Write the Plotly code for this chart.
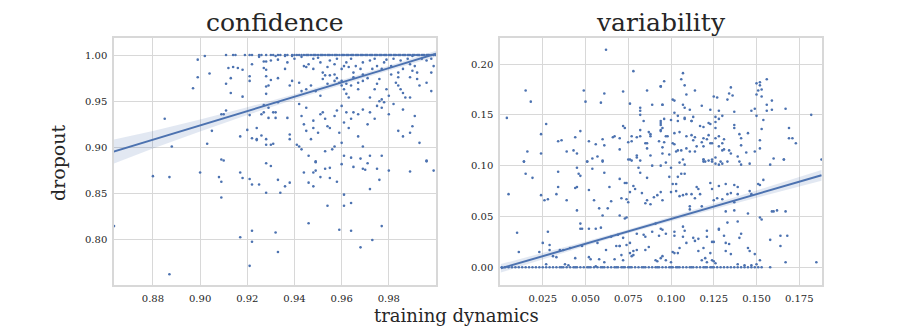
import plotly.graph_objects as go

# ---- confidence panel (x = confidence, y = dropout) ----
conf_x = [
    0.885, 0.888, 0.897, 0.899, 0.899, 0.902, 0.904, 0.905, 0.903, 0.909,
    0.909, 0.910, 0.911, 0.912, 0.914, 0.911, 0.913, 0.913, 0.916, 0.918,
    0.918, 0.921, 0.921, 0.922, 0.925, 0.927, 0.928, 0.930, 0.927, 0.928,
    0.928, 0.928, 0.929, 0.930, 0.928, 0.927, 0.926, 0.927, 0.929, 0.929,
    0.931, 0.932, 0.921, 0.924, 0.920, 0.926, 0.922, 0.924, 0.924, 0.917,
    0.928, 0.928, 0.930, 0.931,
    0.880, 0.887, 0.900, 0.910, 0.908, 0.909, 0.917, 0.918, 0.921, 0.922,
    0.925, 0.928, 0.930, 0.928, 0.909, 0.8635, 0.922, 0.932, 0.917, 0.922,
    0.921, 0.887,
    0.949, 0.944, 0.948, 0.949, 0.953, 0.955, 0.951, 0.955, 0.958, 0.946,
    0.948, 0.933, 0.938, 0.936, 0.934, 0.960, 0.965, 0.969, 0.970, 0.971,
    0.975, 0.976, 0.972, 0.980, 0.989, 0.999, 0.996, 0.961, 0.964, 0.961,
    0.954, 0.946, 0.959, 0.964, 0.977, 0.973, 0.968, 0.933,
    0.932, 0.933, 0.936, 0.937, 0.939, 0.940, 0.943, 0.944, 0.945, 0.946,
    0.948, 0.948, 0.950, 0.951, 0.952, 0.953, 0.954, 0.955, 0.957, 0.958,
    0.960, 0.961, 0.962, 0.963, 0.964, 0.965, 0.966, 0.968, 0.969, 0.972,
    0.973, 0.974, 0.975, 0.977, 0.978, 0.979, 0.981, 0.982, 0.984, 0.985,
    0.986, 0.988, 0.989, 0.990, 0.991, 0.992, 0.994, 0.996, 0.998, 0.999,
    0.933, 0.936, 0.938, 0.939, 0.942, 0.943, 0.945, 0.947, 0.949, 0.951,
    0.952, 0.954, 0.955, 0.957, 0.957, 0.958, 0.959, 0.960, 0.960, 0.961,
    0.962, 0.962, 0.963, 0.964, 0.965, 0.967, 0.967, 0.969, 0.969, 0.971,
    0.972, 0.974, 0.975, 0.976, 0.977, 0.979, 0.980, 0.981, 0.983, 0.984,
    0.984, 0.985, 0.986, 0.987, 0.989, 0.990, 0.992, 0.993, 0.996, 0.998,
    0.998,
    0.932, 0.933, 0.937, 0.938, 0.938, 0.941, 0.942, 0.943, 0.944, 0.945,
    0.945, 0.947, 0.948, 0.948, 0.950, 0.951, 0.952, 0.953, 0.954, 0.955,
    0.957, 0.958, 0.959, 0.960, 0.960, 0.961, 0.962, 0.963, 0.964, 0.965,
    0.967, 0.967, 0.969, 0.971, 0.972, 0.974, 0.975, 0.976, 0.977, 0.978,
    0.980, 0.982, 0.984, 0.986, 0.986, 0.989, 0.989, 0.990, 0.991, 0.993,
    0.942, 0.956, 0.969,
    0.943, 0.946, 0.949, 0.953, 0.957, 0.961, 0.964, 0.968, 0.972, 0.977,
    0.996,
]
conf_y = [
    0.931, 0.901, 0.964, 0.976, 0.995, 0.999, 0.980, 0.918, 0.904, 0.887,
    0.936, 0.936, 0.940, 0.986, 0.987, 0.969, 0.975, 0.959, 0.986, 0.984,
    0.955, 0.977, 0.972, 0.990, 0.998, 0.993, 0.993, 0.994, 0.986, 0.984,
    0.977, 0.966, 0.967, 0.973, 0.958, 0.946, 0.936, 0.938, 0.943, 0.932,
    0.938, 0.932, 0.935, 0.921, 0.919, 0.913, 0.910, 0.909, 0.908, 0.912,
    0.909, 0.903, 0.903, 0.904,
    0.869, 0.868, 0.873, 0.886, 0.868, 0.863, 0.873, 0.867, 0.866, 0.860,
    0.860, 0.883, 0.880, 0.851, 0.846, 0.815, 0.810, 0.808, 0.803, 0.798,
    0.772, 0.763,
    0.884, 0.873, 0.873, 0.875, 0.877, 0.878, 0.868, 0.867, 0.863, 0.862,
    0.858, 0.865, 0.862, 0.858, 0.851, 0.882, 0.879, 0.877, 0.876, 0.883,
    0.877, 0.865, 0.855, 0.875, 0.874, 0.875, 0.886, 0.849, 0.840, 0.837,
    0.837, 0.818, 0.811, 0.810, 0.815, 0.800, 0.792, 0.787,
    0.999, 0.995, 0.999, 0.992, 0.999, 0.996, 0.998, 0.988, 0.987, 0.990,
    0.985, 0.996, 0.997, 0.992, 0.981, 0.978, 0.987, 0.994, 0.990, 0.996,
    0.985, 0.988, 0.992, 0.987, 0.996, 0.981, 0.988, 0.985, 0.992, 0.994,
    0.985, 0.996, 0.988, 0.985, 0.992, 0.995, 0.988, 0.996, 0.981, 0.994,
    0.985, 0.996, 0.990, 0.999, 0.988, 0.981, 0.996, 0.994, 0.996, 0.988,
    0.975, 0.985, 0.967, 0.972, 0.970, 0.961, 0.963, 0.967, 0.961, 0.956,
    0.974, 0.969, 0.978, 0.979, 0.972, 0.975, 0.970, 0.967, 0.972, 0.963,
    0.969, 0.958, 0.954, 0.967, 0.976, 0.970, 0.963, 0.979, 0.972, 0.975,
    0.954, 0.963, 0.969, 0.974, 0.952, 0.963, 0.956, 0.979, 0.970, 0.976,
    0.967, 0.963, 0.959, 0.954, 0.976, 0.983, 0.974, 0.967, 0.970, 0.981,
    0.961,
    0.938, 0.949, 0.932, 0.914, 0.909, 0.903, 0.947, 0.934, 0.925, 0.943,
    0.918, 0.909, 0.929, 0.921, 0.916, 0.936, 0.938, 0.931, 0.923, 0.921,
    0.934, 0.940, 0.916, 0.945, 0.905, 0.927, 0.938, 0.921, 0.931, 0.938,
    0.912, 0.936, 0.941, 0.925, 0.938, 0.931, 0.945, 0.950, 0.943, 0.949,
    0.936, 0.947, 0.918, 0.941, 0.912, 0.954, 0.916, 0.923, 0.934, 0.905,
    0.901, 0.898, 0.901,
    0.898, 0.891, 0.885, 0.896, 0.901, 0.891, 0.889, 0.888, 0.891, 0.891,
    0.885,
]
# points sitting exactly at dropout = 1.00
conf_top_x = [
    0.911, 0.914, 0.915, 0.919, 0.921, 0.922, 0.925, 0.926, 0.928, 0.930,
    0.931, 0.933, 0.934, 0.936, 0.937, 0.939, 0.940, 0.941, 0.942, 0.943,
    0.944, 0.945, 0.9455, 0.946, 0.947, 0.948, 0.9485, 0.949, 0.950, 0.951,
    0.9515, 0.952, 0.953, 0.954, 0.9545, 0.955, 0.956, 0.957, 0.9575, 0.958,
    0.959, 0.960, 0.9605, 0.961, 0.962, 0.9625, 0.963, 0.964, 0.9645, 0.965,
    0.966, 0.9665, 0.967, 0.968, 0.9685, 0.969, 0.970, 0.9705, 0.971, 0.972,
    0.9725, 0.973, 0.974, 0.9745, 0.975, 0.976, 0.9765, 0.977, 0.978, 0.9785,
    0.979, 0.980, 0.9805, 0.981, 0.982, 0.9825, 0.983, 0.984, 0.9845, 0.985,
    0.986, 0.9865, 0.987, 0.988, 0.9885, 0.989, 0.990, 0.9905, 0.991, 0.992,
    0.9925, 0.993, 0.994, 0.9945, 0.995, 0.996, 0.9965, 0.997, 0.998, 0.999,
    1.0,
]
conf_top_y = [1.0] * len(conf_top_x)

# regression line + 95% band
conf_fit_x = [0.8633, 0.88, 0.90, 0.92, 0.94, 0.96, 0.98, 1.0]
conf_fit_y = [0.8955, 0.9083, 0.9238, 0.9393, 0.9548, 0.9703, 0.9858, 1.0013]
conf_fit_hw = [0.013, 0.0095, 0.0065, 0.0042, 0.0029, 0.0023, 0.0025, 0.0032]

# ---- variability panel (x = variability, y = dropout) ----
var_x = [
    0.062, 0.078, 0.015, 0.018, 0.049, 0.050, 0.061, 0.059, 0.072, 0.076,
    0.082, 0.082, 0.082, 0.086, 0.089, 0.094, 0.095, 0.004, 0.027, 0.024,
    0.016, 0.024, 0.014, 0.034, 0.036, 0.039, 0.043, 0.045, 0.044, 0.047,
    0.052, 0.056, 0.060, 0.061, 0.054, 0.057, 0.051, 0.060, 0.066, 0.067,
    0.070, 0.070, 0.072, 0.073, 0.075, 0.077, 0.077, 0.076, 0.080, 0.080,
    0.080, 0.082, 0.082, 0.082, 0.084, 0.085, 0.086, 0.087, 0.088, 0.086,
    0.088, 0.088, 0.094, 0.094, 0.094, 0.093, 0.095, 0.095,
    0.107, 0.106, 0.096, 0.094, 0.108, 0.114, 0.109, 0.101, 0.102, 0.095,
    0.107, 0.108, 0.111, 0.118, 0.123, 0.125, 0.127, 0.128, 0.135, 0.134,
    0.136, 0.133, 0.137, 0.150, 0.152, 0.152, 0.153, 0.156, 0.151, 0.150,
    0.153, 0.159, 0.156, 0.159, 0.156, 0.149, 0.147, 0.167, 0.182, 0.096,
    0.100, 0.102, 0.104, 0.108, 0.108, 0.113, 0.112, 0.112, 0.104, 0.117,
    0.119, 0.122, 0.123, 0.126, 0.126, 0.130, 0.128, 0.126, 0.137, 0.137,
    0.140, 0.145, 0.141, 0.150, 0.154, 0.153, 0.152, 0.169, 0.169, 0.171,
    0.173, 0.152, 0.141, 0.094, 0.094, 0.097, 0.098, 0.102, 0.105, 0.109,
    0.112, 0.114, 0.113, 0.115, 0.118, 0.119, 0.119, 0.121, 0.122, 0.123,
    0.124, 0.126, 0.128, 0.128, 0.130, 0.131, 0.130, 0.131, 0.134, 0.135,
    0.139, 0.101, 0.102, 0.103, 0.104, 0.095, 0.096, 0.099, 0.106, 0.109,
    0.111, 0.107, 0.114, 0.119, 0.119, 0.122, 0.124, 0.126, 0.129, 0.144,
    0.149, 0.160, 0.166, 0.188,
    0.014, 0.015, 0.019, 0.005, 0.024, 0.026, 0.028, 0.034, 0.034, 0.033,
    0.039, 0.045, 0.046, 0.047, 0.044, 0.045, 0.045, 0.047, 0.048, 0.051,
    0.054, 0.061, 0.060, 0.052, 0.055, 0.058, 0.060, 0.063, 0.064, 0.065,
    0.070, 0.071, 0.070, 0.073, 0.074, 0.073, 0.074, 0.074, 0.075, 0.076,
    0.075, 0.077, 0.081, 0.082, 0.078, 0.079, 0.083, 0.086, 0.086, 0.085,
    0.088, 0.089, 0.090, 0.092, 0.094, 0.095, 0.048, 0.047, 0.052, 0.056,
    0.059, 0.057, 0.062, 0.065, 0.069, 0.068, 0.070, 0.070, 0.067, 0.072,
    0.074, 0.071, 0.072, 0.076, 0.078, 0.080, 0.076, 0.077, 0.078, 0.080,
    0.084, 0.085, 0.085, 0.087, 0.089, 0.091, 0.093, 0.091, 0.092, 0.094,
    0.094, 0.010, 0.011, 0.023, 0.025, 0.028, 0.029, 0.029, 0.031, 0.033,
    0.035, 0.037, 0.041, 0.044, 0.052, 0.053, 0.058, 0.061, 0.027, 0.038,
    0.040, 0.056,
    0.094, 0.097, 0.100, 0.105, 0.108, 0.119, 0.120, 0.124, 0.126, 0.128,
    0.130, 0.133, 0.140, 0.141, 0.146, 0.158, 0.166, 0.099, 0.104, 0.106,
    0.108, 0.101, 0.103, 0.100, 0.103, 0.105, 0.107, 0.109, 0.112, 0.115,
    0.116, 0.117, 0.114, 0.111, 0.111, 0.118, 0.123, 0.124, 0.128, 0.132,
    0.137, 0.139, 0.135, 0.139, 0.125, 0.127, 0.130, 0.133, 0.146, 0.147,
    0.151, 0.152, 0.154, 0.137, 0.132, 0.137, 0.145, 0.159, 0.160, 0.162,
    0.167, 0.152, 0.153, 0.095, 0.097, 0.102, 0.102, 0.107, 0.108, 0.107,
    0.109, 0.113, 0.114, 0.116, 0.121, 0.121, 0.119, 0.124, 0.125, 0.128,
    0.128, 0.131, 0.133, 0.132, 0.134, 0.132, 0.135, 0.140, 0.141, 0.139,
    0.145, 0.146, 0.149, 0.152, 0.158, 0.164, 0.168, 0.164, 0.167, 0.185,
    0.095, 0.097, 0.101, 0.102, 0.104, 0.105, 0.116, 0.123, 0.118, 0.120,
    0.121, 0.124, 0.125, 0.126, 0.139, 0.143, 0.147, 0.150, 0.100,
]
var_y = [
    0.214, 0.193, 0.174, 0.163, 0.174, 0.163, 0.171, 0.162, 0.173, 0.161,
    0.157, 0.154, 0.150, 0.174, 0.160, 0.178, 0.160, 0.147, 0.141, 0.131,
    0.114, 0.112, 0.104, 0.124, 0.125, 0.114, 0.115, 0.112, 0.128, 0.134,
    0.124, 0.121, 0.126, 0.120, 0.107, 0.109, 0.104, 0.105, 0.128, 0.129,
    0.127, 0.116, 0.139, 0.137, 0.123, 0.129, 0.124, 0.106, 0.110, 0.108,
    0.128, 0.129, 0.135, 0.105, 0.144, 0.122, 0.122, 0.133, 0.131, 0.117,
    0.110, 0.129, 0.144, 0.142, 0.134, 0.124, 0.137, 0.112,
    0.191, 0.185, 0.183, 0.178, 0.179, 0.174, 0.170, 0.165, 0.164, 0.160,
    0.160, 0.157, 0.155, 0.159, 0.155, 0.168, 0.167, 0.154, 0.177, 0.171,
    0.169, 0.165, 0.153, 0.181, 0.182, 0.179, 0.175, 0.185, 0.174, 0.170,
    0.168, 0.164, 0.160, 0.155, 0.154, 0.156, 0.154, 0.156, 0.150, 0.146,
    0.145, 0.152, 0.149, 0.147, 0.146, 0.148, 0.144, 0.144, 0.144, 0.139,
    0.138, 0.142, 0.141, 0.148, 0.143, 0.149, 0.146, 0.137, 0.140, 0.137,
    0.131, 0.132, 0.127, 0.149, 0.145, 0.136, 0.125, 0.137, 0.127, 0.127,
    0.122, 0.117, 0.120, 0.140, 0.135, 0.129, 0.129, 0.132, 0.133, 0.129,
    0.130, 0.128, 0.125, 0.119, 0.123, 0.127, 0.119, 0.126, 0.130, 0.122,
    0.122, 0.127, 0.129, 0.119, 0.122, 0.126, 0.115, 0.116, 0.115, 0.112,
    0.109, 0.122, 0.121, 0.114, 0.115, 0.118, 0.123, 0.111, 0.115, 0.117,
    0.114, 0.106, 0.114, 0.106, 0.104, 0.105, 0.106, 0.108, 0.104, 0.113,
    0.114, 0.107, 0.106, 0.106,
    0.104, 0.092, 0.088, 0.072, 0.071, 0.066, 0.067, 0.094, 0.079, 0.072,
    0.066, 0.098, 0.092, 0.090, 0.078, 0.079, 0.056, 0.043, 0.038, 0.104,
    0.097, 0.093, 0.104, 0.076, 0.066, 0.058, 0.051, 0.058, 0.079, 0.065,
    0.087, 0.068, 0.051, 0.048, 0.049, 0.083, 0.083, 0.067, 0.064, 0.074,
    0.106, 0.105, 0.098, 0.093, 0.080, 0.077, 0.073, 0.088, 0.066, 0.063,
    0.062, 0.100, 0.069, 0.071, 0.074, 0.066, 0.021, 0.038, 0.038, 0.038,
    0.039, 0.024, 0.017, 0.030, 0.032, 0.021, 0.021, 0.021, 0.008, 0.029,
    0.022, 0.012, 0.007, 0.024, 0.016, 0.017, 0.014, 0.011, 0.012, 0.033,
    0.032, 0.030, 0.017, 0.020, 0.035, 0.043, 0.031, 0.007, 0.006, 0.038,
    0.009, 0.034, 0.015, 0.015, 0.024, 0.035, 0.022, 0.017, 0.011, 0.010,
    0.017, 0.017, 0.019, 0.009, 0.010, 0.008, 0.008, 0.005, 0.003, 0.003,
    0.002, 0.001,
    0.100, 0.103, 0.098, 0.103, 0.101, 0.106, 0.104, 0.104, 0.102, 0.101,
    0.102, 0.104, 0.104, 0.101, 0.102, 0.101, 0.106, 0.089, 0.089, 0.092,
    0.092, 0.082, 0.082, 0.074, 0.075, 0.070, 0.071, 0.072, 0.072, 0.079,
    0.077, 0.072, 0.068, 0.060, 0.057, 0.060, 0.083, 0.077, 0.080, 0.082,
    0.081, 0.079, 0.073, 0.072, 0.066, 0.068, 0.067, 0.072, 0.075, 0.072,
    0.082, 0.081, 0.086, 0.064, 0.055, 0.056, 0.053, 0.055, 0.055, 0.056,
    0.055, 0.049, 0.047, 0.037, 0.033, 0.035, 0.031, 0.040, 0.036, 0.030,
    0.024, 0.029, 0.026, 0.028, 0.036, 0.030, 0.019, 0.025, 0.025, 0.037,
    0.038, 0.031, 0.044, 0.024, 0.023, 0.016, 0.013, 0.029, 0.033, 0.045,
    0.019, 0.016, 0.013, 0.007, 0.027, 0.031, 0.031, 0.021, 0.005, 0.005,
    0.011, 0.007, 0.015, 0.014, 0.014, 0.019, 0.016, 0.014, 0.007, 0.009,
    0.005, 0.007, 0.006, 0.004, 0.003, 0.002, 0.002, 0.003, 0.005,
]
# points sitting exactly at dropout = 0.00
var_floor_x = [
    0.001, 0.003, 0.005, 0.007, 0.009, 0.011, 0.013, 0.015, 0.017, 0.019,
    0.021, 0.023, 0.025, 0.027, 0.029, 0.031, 0.033, 0.035, 0.036, 0.037,
    0.039, 0.041, 0.043, 0.044, 0.045, 0.047, 0.049, 0.051, 0.052, 0.053,
    0.055, 0.057, 0.059, 0.060, 0.061, 0.063, 0.065, 0.067, 0.068, 0.069,
    0.071, 0.072, 0.073, 0.075, 0.076, 0.077, 0.079, 0.081, 0.083, 0.084,
    0.085, 0.087, 0.089, 0.091, 0.092, 0.093, 0.095, 0.097, 0.099, 0.100,
    0.101, 0.103, 0.104, 0.105, 0.107, 0.109, 0.111, 0.112, 0.113, 0.115,
    0.117, 0.119, 0.120, 0.121, 0.123, 0.124, 0.125, 0.127, 0.129, 0.131,
    0.133, 0.135, 0.137, 0.139, 0.141, 0.143, 0.145, 0.147, 0.149, 0.151,
    0.153, 0.158,
]
var_floor_y = [0.0] * len(var_floor_x)

var_fit_x = [0.0005, 0.025, 0.05, 0.075, 0.1, 0.125, 0.15, 0.175, 0.188]
var_fit_y = [-0.0010, 0.0110, 0.0232, 0.0354, 0.0476, 0.0598, 0.0720, 0.0842, 0.0905]
var_fit_hw = [0.0042, 0.0030, 0.0022, 0.0019, 0.0020, 0.0027, 0.0036, 0.0047, 0.0053]

assert len(conf_x) == len(conf_y), (len(conf_x), len(conf_y))
assert len(var_x) == len(var_y), (len(var_x), len(var_y))

BLUE = "#4c72b0"
BAND = "rgba(76,114,176,0.16)"
GRID = "#d8d8d8"
FONT = "DejaVu Serif"

# the page body adds an 8px margin, so the figure is 8px smaller than the window
W, H, OFF = 905, 318, 8


def px_x(p):
    return (p - OFF) / W


def px_y(p):
    return 1 - (p - OFF) / H


fig = go.Figure()


def add_panel(fig, xs, ys, fx, fy, hw, xa, ya):
    fig.add_trace(go.Scatter(
        x=xs, y=ys, mode="markers", xaxis=xa, yaxis=ya,
        marker=dict(color=BLUE, size=2.6, line=dict(width=0)),
        showlegend=False, hoverinfo="skip",
    ))
    lo = [a - b for a, b in zip(fy, hw)]
    hi = [a + b for a, b in zip(fy, hw)]
    fig.add_trace(go.Scatter(
        x=fx, y=lo, mode="lines", xaxis=xa, yaxis=ya,
        line=dict(width=0, color=BAND), showlegend=False, hoverinfo="skip",
    ))
    fig.add_trace(go.Scatter(
        x=fx, y=hi, mode="lines", xaxis=xa, yaxis=ya, fill="tonexty",
        fillcolor=BAND, line=dict(width=0, color=BAND),
        showlegend=False, hoverinfo="skip",
    ))
    fig.add_trace(go.Scatter(
        x=fx, y=fy, mode="lines", xaxis=xa, yaxis=ya,
        line=dict(color=BLUE, width=2), showlegend=False, hoverinfo="skip",
    ))


add_panel(fig, conf_x + conf_top_x, conf_y + conf_top_y,
          conf_fit_x, conf_fit_y, conf_fit_hw, "x", "y")
add_panel(fig, var_x + var_floor_x, var_y + var_floor_y,
          var_fit_x, var_fit_y, var_fit_hw, "x2", "y2")

axis_common = dict(
    showgrid=True, gridcolor=GRID, gridwidth=1,
    showline=True, linecolor=GRID, linewidth=1.5, mirror=True,
    zeroline=False, ticks="outside", ticklen=3, tickcolor="rgba(0,0,0,0)",
    tickfont=dict(family=FONT, size=10, color="#262626"),
)
ydom = [px_y(285), px_y(38)]

fig.update_layout(
    width=W, height=H,
    margin=dict(l=0, r=0, t=0, b=0),
    paper_bgcolor="white", plot_bgcolor="white",
    xaxis=dict(domain=[px_x(114), px_x(436)], range=[0.8635, 1.0],
               tickvals=[0.88, 0.90, 0.92, 0.94, 0.96, 0.98],
               ticktext=["0.88", "0.90", "0.92", "0.94", "0.96", "0.98"],
               anchor="y", **axis_common),
    yaxis=dict(domain=ydom, range=[0.7513, 1.0184],
               tickvals=[0.80, 0.85, 0.90, 0.95, 1.00],
               ticktext=["0.80", "0.85", "0.90", "0.95", "1.00"],
               anchor="x", **axis_common),
    xaxis2=dict(domain=[px_x(500), px_x(822)], range=[0.0, 0.1883],
                tickvals=[0.025, 0.05, 0.075, 0.1, 0.125, 0.15, 0.175],
                ticktext=["0.025", "0.050", "0.075", "0.100", "0.125", "0.150", "0.175"],
                anchor="y2", **axis_common),
    yaxis2=dict(domain=ydom, range=[-0.0174, 0.2256],
                tickvals=[0.0, 0.05, 0.10, 0.15, 0.20],
                ticktext=["0.00", "0.05", "0.10", "0.15", "0.20"],
                anchor="x2", **axis_common),
    annotations=[
        dict(text="confidence", x=px_x(275), y=px_y(23), xref="paper", yref="paper",
             showarrow=False, xanchor="center", yanchor="middle",
             font=dict(family=FONT, size=25, color="#262626")),
        dict(text="variability", x=px_x(661), y=px_y(23), xref="paper", yref="paper",
             showarrow=False, xanchor="center", yanchor="middle",
             font=dict(family=FONT, size=25, color="#262626")),
        dict(text="dropout", x=px_x(58), y=px_y(163), xref="paper", yref="paper",
             showarrow=False, xanchor="center", yanchor="middle", textangle=-90,
             font=dict(family=FONT, size=19, color="#262626")),
        dict(text="training dynamics", x=px_x(456), y=px_y(315), xref="paper", yref="paper",
             showarrow=False, xanchor="center", yanchor="middle",
             font=dict(family=FONT, size=18, color="#262626")),
    ],
)

fig.write_html("out.html")
